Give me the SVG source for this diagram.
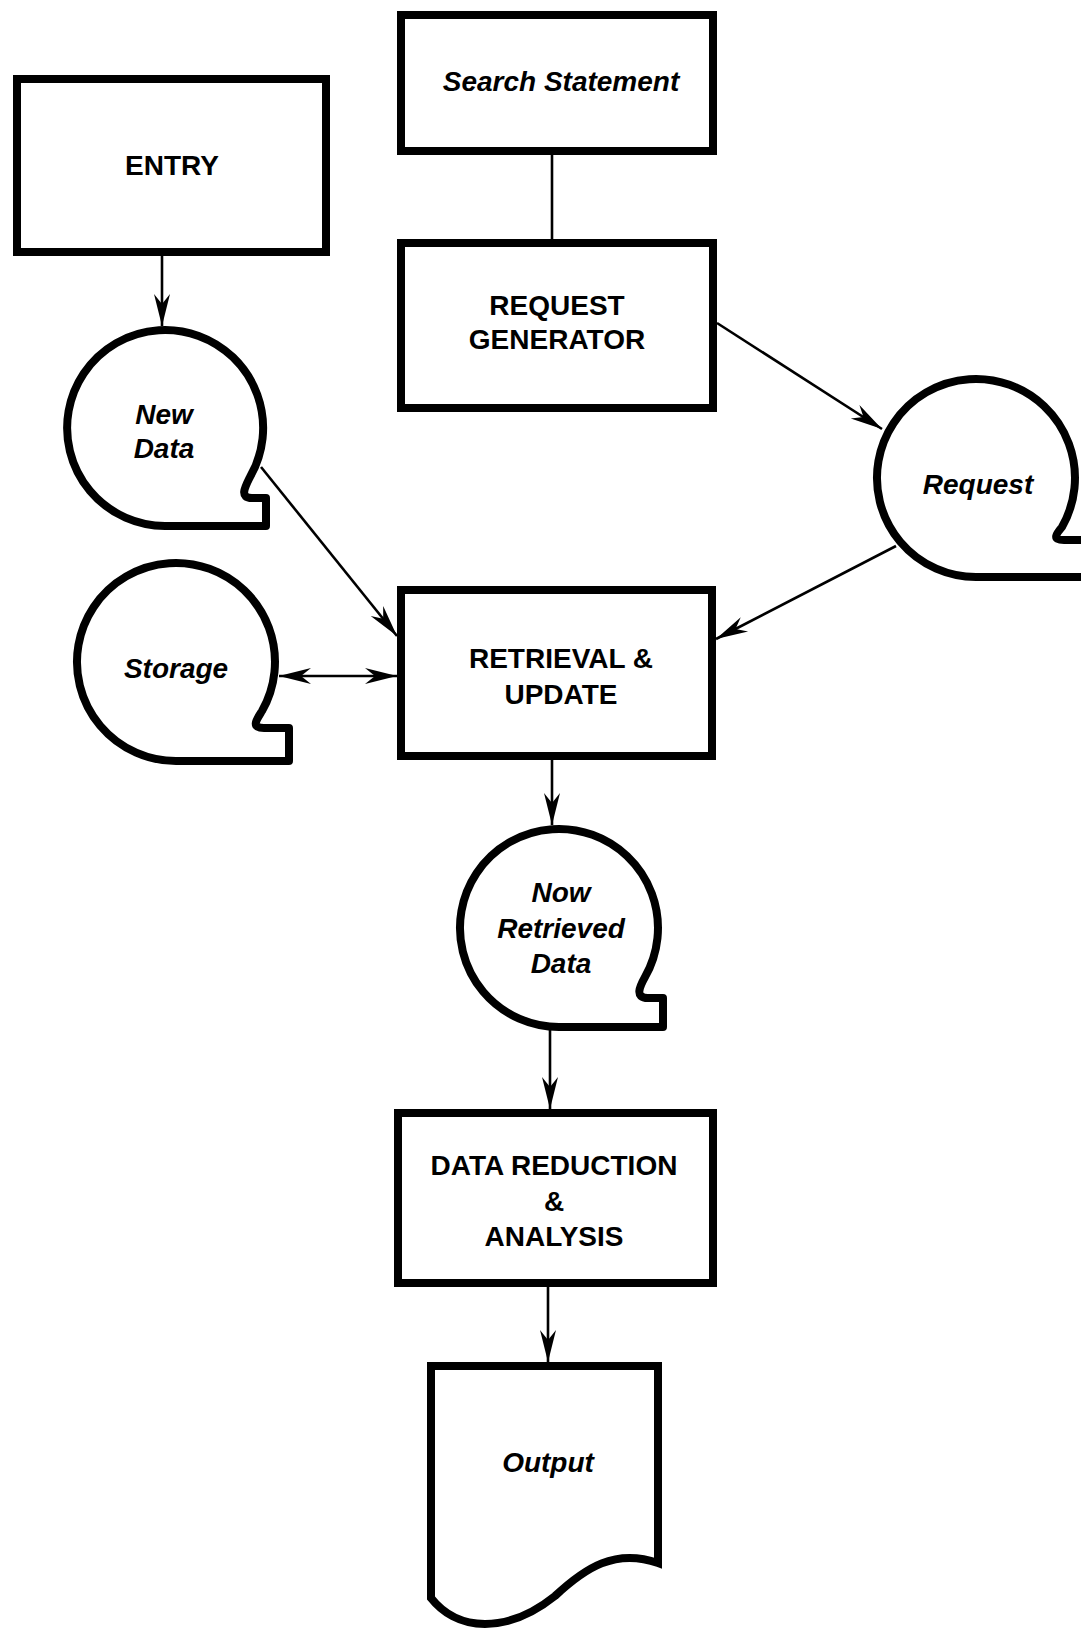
<svg xmlns="http://www.w3.org/2000/svg" width="1081" height="1630" viewBox="0 0 1081 1630">
<style>
.box{fill:#fff;stroke:#000;stroke-width:8;stroke-linejoin:miter}
.tape{fill:#fff;stroke:#000;stroke-width:8;stroke-linejoin:round}
.con{fill:none;stroke:#000;stroke-width:2.6}
.t{font-family:"Liberation Sans",Arial,sans-serif;font-size:28px;font-weight:bold;text-anchor:middle;fill:#000}
.i{font-style:italic}
</style>
<defs>
<marker id="ah" markerUnits="userSpaceOnUse" markerWidth="40" markerHeight="24" viewBox="-34 -12 36 24" refX="0" refY="0" orient="auto-start-reverse">
<path d="M0,0 L-32,-8 L-22,0 L-32,8 Z" fill="#000"/>
</marker>
</defs>
<rect width="1081" height="1630" fill="#fff"/>
<g id="connectors">
<line class="con" x1="552" y1="151" x2="552" y2="243"/>
<line class="con" x1="162" y1="253" x2="162" y2="326" marker-end="url(#ah)"/>
<line class="con" x1="717" y1="323" x2="882" y2="429" marker-end="url(#ah)"/>
<line class="con" x1="261" y1="467" x2="397" y2="636" marker-end="url(#ah)"/>
<line class="con" x1="896" y1="546" x2="716" y2="639" marker-end="url(#ah)"/>
<line class="con" x1="279" y1="676" x2="397" y2="676" marker-start="url(#ah)" marker-end="url(#ah)"/>
<line class="con" x1="552" y1="756" x2="552" y2="825" marker-end="url(#ah)"/>
<line class="con" x1="550" y1="1027" x2="550" y2="1109" marker-end="url(#ah)"/>
<line class="con" x1="548" y1="1283" x2="548" y2="1362" marker-end="url(#ah)"/>
</g>
<g id="entry">
<rect class="box" x="17" y="79" width="309" height="173"/>
<text class="t" x="172" y="175">ENTRY</text>
</g>
<g id="search-statement">
<rect class="box" x="401" y="15" width="312" height="136"/>
<text class="t i" x="561" y="91">Search Statement</text>
</g>
<g id="request-generator">
<rect class="box" x="401" y="243" width="312" height="165"/>
<text class="t" x="557" y="315">REQUEST</text>
<text class="t" x="557" y="349">GENERATOR</text>
</g>
<g id="new-data">
<path class="tape" d="M165,526 A98,98 0 1 1 250,477 C245,487 239,498 252,498 H266 V526 Z"/>
<text class="t i" x="164" y="424">New</text>
<text class="t i" x="164" y="458">Data</text>
</g>
<g id="request">
<path class="tape" d="M976,577 A99,99 0 1 1 1062,527 C1057,533 1051,540 1064,540 H1092 V577 Z"/>
<text class="t i" x="978" y="494">Request</text>
</g>
<g id="storage">
<path class="tape" d="M176,761 A99,99 0 1 1 262,711 C257,719 250,728 264,728 H289 V761 Z"/>
<text class="t i" x="176" y="678">Storage</text>
</g>
<g id="retrieval-update">
<rect class="box" x="401" y="590" width="311" height="166"/>
<text class="t" x="561" y="668">RETRIEVAL &amp;</text>
<text class="t" x="561" y="704">UPDATE</text>
</g>
<g id="now-retrieved-data">
<path class="tape" d="M559,1027 A99,99 0 1 1 645,977 C640,986 634,998 648,998 H663 V1027 Z"/>
<text class="t i" x="561" y="902">Now</text>
<text class="t i" x="561" y="938">Retrieved</text>
<text class="t i" x="561" y="973">Data</text>
</g>
<g id="data-reduction">
<rect class="box" x="398" y="1113" width="315" height="170"/>
<text class="t" x="554" y="1175">DATA REDUCTION</text>
<text class="t" x="554" y="1211">&amp;</text>
<text class="t" x="554" y="1246">ANALYSIS</text>
</g>
<g id="output">
<path class="box" d="M431,1366 H658 V1563 C615,1548 585,1568 555,1596 C530,1616 505,1624 485,1624 C460,1624 442,1612 431,1598 Z"/>
<text class="t i" x="548" y="1472">Output</text>
</g>
</svg>
